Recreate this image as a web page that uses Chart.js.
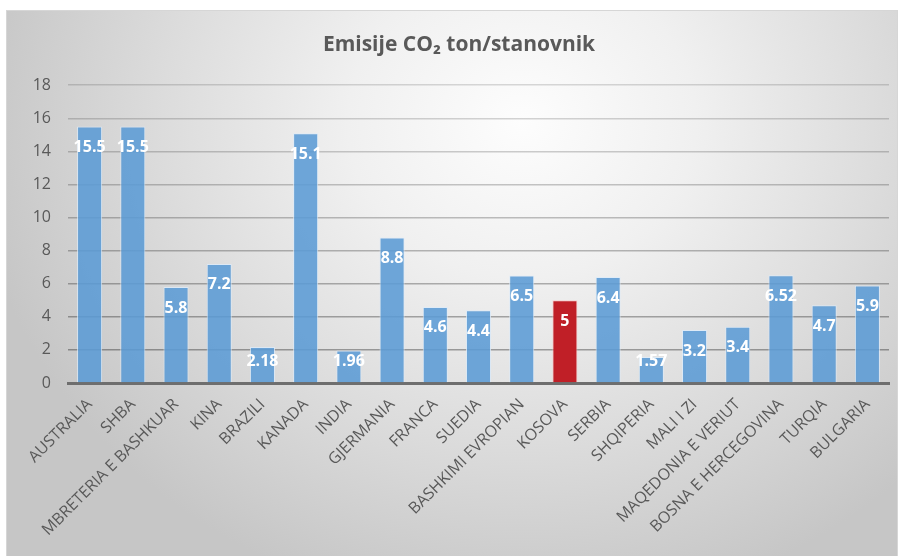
<!DOCTYPE html>
<html>
<head>
<meta charset="utf-8">
<script src="https://cdn.jsdelivr.net/npm/chart.js@4"></script>
<style>
  html, body { margin: 0; padding: 0; background: #ffffff; }
  #frame {
    position: absolute; left: 6px; top: 10px; width: 890px; height: 546px;
    border: 1px solid #d6d6d6;
    background: radial-gradient(ellipse 580px 520px at 515px 110px, #fdfdfd 0%, #f0f0f0 30%, #dcdcdc 62%, #c6c6c6 95%);
    overflow: hidden;
  }
  #chart { position: absolute; left: 0; top: 0; }
</style>
</head>
<body>
<div id="frame"><canvas id="chart" width="890" height="545"></canvas></div>
<script>
// categories and tonnes of CO2 per inhabitant
const countries = ['AUSTRALIA', 'SHBA', 'MBRETERIA E BASHKUAR', 'KINA', 'BRAZILI', 'KANADA', 'INDIA',
  'GJERMANIA', 'FRANCA', 'SUEDIA', 'BASHKIMI EVROPIAN', 'KOSOVA', 'SERBIA', 'SHQIPERIA', 'MALI I ZI',
  'MAQEDONIA E VERIUT', 'BOSNA E HERCEGOVINA', 'TURQIA', 'BULGARIA'];
const emissions = [15.5, 15.5, 5.8, 7.2, 2.18, 15.1, 1.96, 8.8, 4.6, 4.4, 6.5, 5, 6.4, 1.57, 3.2, 3.4, 6.52, 4.7, 5.9];
const yTicks = [0, 2, 4, 6, 8, 10, 12, 14, 16, 18];

const highlight = 'KOSOVA';
const barFill = countries.map(c => c === highlight ? '#c01f27' : 'rgba(91,155,213,0.88)');
const barEdge = countries.map(c => c === highlight ? 'rgba(255,190,190,0.7)' : 'rgba(220,235,250,0.8)');

// white value labels just inside the top of each bar
const valueLabels = {
  id: 'valueLabels',
  afterDatasetsDraw(chart) {
    const ctx = chart.ctx;
    const meta = chart.getDatasetMeta(0);
    ctx.save();
    ctx.font = 'bold 16px "Open Sans"';
    ctx.fillStyle = '#ffffff';
    ctx.textAlign = 'center';
    ctx.textBaseline = 'middle';
    meta.data.forEach((bar, i) => {
      const y = Math.min(bar.y + 21, bar.base - 21);
      ctx.fillText(String(emissions[i]), bar.x, y);
    });
    ctx.restore();
  }
};

new Chart(document.getElementById('chart'), {
  type: 'bar',
  data: {
    labels: countries,
    datasets: [{
      data: emissions,
      backgroundColor: barFill,
      borderColor: barEdge,
      borderWidth: 1,
      categoryPercentage: 1,
      barPercentage: 0.58
    }]
  },
  options: {
    responsive: false,
    devicePixelRatio: 1,
    animation: false,
    layout: { padding: { left: 22, right: 8, top: 0, bottom: 0 } },
    plugins: {
      legend: { display: false },
      tooltip: { enabled: false },
      title: {
        display: true,
        text: 'Emisije CO₂ ton/stanovnik',
        color: '#595959',
        font: { family: '"Open Sans"', size: 21, weight: 'bold' },
        padding: { top: 21, bottom: 28 }
      }
    },
    scales: {
      x: {
        grid: { display: false, drawTicks: false },
        border: { display: true, color: '#6e6e6e', width: 3 },
        ticks: {
          color: '#595959',
          font: { family: '"Open Sans"', size: 16 },
          maxRotation: 45,
          minRotation: 45,
          autoSkip: false,
          padding: 12
        },
        afterFit(scale) { scale.height = 173; }
      },
      y: {
        min: 0,
        max: 18,
        afterBuildTicks(scale) { scale.ticks = yTicks.map(v => ({ value: v })); },
        grid: {
          // lines fade toward the top of the plot
          color: ctx => 'rgba(0,0,0,' + (0.36 - 0.012 * (ctx.tick ? ctx.tick.value : 0)).toFixed(3) + ')',
          lineWidth: 1.5,
          drawTicks: false
        },
        border: { display: false },
        ticks: {
          color: '#595959',
          font: { family: '"Open Sans"', size: 16 },
          padding: 17
        },
        afterFit(scale) { scale.width = 39; }
      }
    }
  },
  plugins: [valueLabels]
});
</script>
</body>
</html>
